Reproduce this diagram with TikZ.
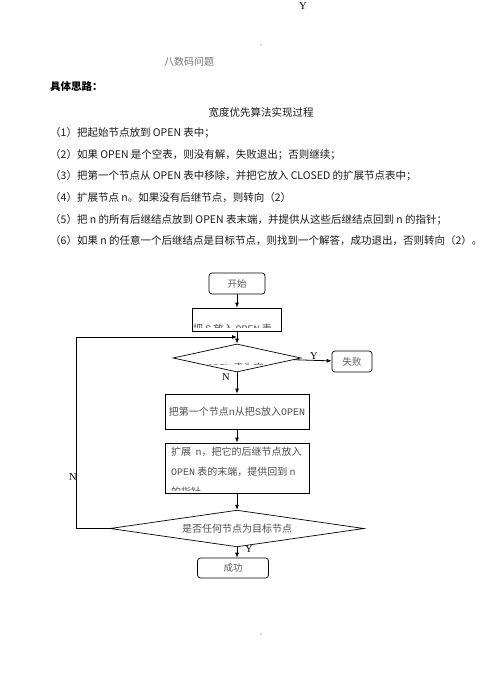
\documentclass[tikz,border=0pt]{standalone}
\usepackage{fontspec}
\setmainfont{Noto Sans CJK SC}
\setmonofont{Liberation Mono}
\newfontfamily\serifl{Liberation Serif}
\newcommand{\monol}{\ttfamily}
\usepackage{tikz}
\usetikzlibrary{arrows.meta,positioning,shapes.geometric}

\begin{document}
\begin{tikzpicture}[
  x=1pt, y=-1pt,
  every node/.style={inner sep=0pt},
  para/.style={anchor=west, font=\fontsize{10.5}{12}\selectfont, text=black!90},
  termbox/.style={draw, rounded corners=3pt, line width=0.7pt, text=black!65,
    font=\fontsize{9.5}{11}\selectfont},
  procbox/.style={draw, line width=0.8pt},
  decision/.style={draw, diamond, aspect=4, line width=0.7pt},
  boxtext/.style={text=black!70, font=\fontsize{10}{20}\selectfont},
  yn/.style={font=\serifl\fontsize{10.5}{12}\selectfont},
  arrow/.style={-{Latex[length=5pt,width=4pt]}, line width=0.8pt},
  dotmark/.style={circle, fill=black!70, inner sep=0.5pt}
]
\useasboundingbox (0,0) rectangle (496,688);

% page header and text
\node[yn] (topy) at (303,6) {Y};
\node[dotmark] (dottop) at (261,45) {};
\node[font=\fontsize{10}{12}\selectfont, text=black!55] (title) at (189,62) {八数码问题};
\node[anchor=west, font=\bfseries\fontsize{10.5}{12}\selectfont] (idea) at (50,87) {具体思路：};
\node[font=\fontsize{10.5}{12}\selectfont, text=black!90] (algo) at (261,113) {宽度优先算法实现过程};
\foreach \txt [count=\i] in {
  {（1）把起始节点放到 OPEN 表中；},
  {（2）如果 OPEN 是个空表，则没有解，失败退出；否则继续；},
  {（3）把第一个节点从 OPEN 表中移除，并把它放入 CLOSED 的扩展节点表中；},
  {（4）扩展节点 n。如果没有后继节点，则转向（2）},
  {（5）把 n 的所有后继结点放到 OPEN 表末端，并提供从这些后继结点回到 n 的指针；},
  {（6）如果 n 的任意一个后继结点是目标节点，则找到一个解答，成功退出，否则转向（2）。}}
  \node[para] (step\i) at (50,{133+21.6*(\i-1)}) {\txt};

% flowchart
\node[termbox, minimum width=56pt, minimum height=21pt] (start) at (237,283.5) {开始};
\node[procbox, minimum width=89pt, minimum height=23pt] (putS) at (237,319.5) {};
\coordinate (join) at (237,337);
\node[decision, minimum width=128pt, minimum height=28pt] (empty) at (237,358) {};
\node[termbox, minimum width=40pt, minimum height=21pt] (fail) at (352,361.5) {失败};
\node[procbox, minimum width=144pt, minimum height=35pt, boxtext] (take) at (237,411.5)
  {把第一个节点{\monol n}从把{\monol S}放入{\monol OPEN}};
\node[procbox, minimum width=144pt, minimum height=50pt] (expand) at (237,468) {};
\node[decision, minimum width=254pt, minimum height=29pt, boxtext] (goal) at (237,528.5)
  {是否任何节点为目标节点};
\node[termbox, minimum width=71pt, minimum height=20pt] (success) at (233,568) {成功};
\coordinate (loopleft) at (76,528.5);

% texts cut off by their boxes
\begin{scope}
  \clip (putS.north west) rectangle ([yshift=4pt]putS.south east);
  \node[boxtext] (putStext) at (232.5,328.5) {把 {\monol S} 放入 {\monol OPEN} 表};
\end{scope}
\begin{scope}
  \clip (172,344) rectangle (300,364);
  \node[boxtext] (emptytext) at (235.5,367.5) {{\monol OPEN} 表为空};
\end{scope}
\begin{scope}
  \clip (expand.north west) rectangle ([yshift=3pt]expand.south east);
  \node[boxtext, anchor=north west, align=left] (expandtext) at (171,447)
    {扩展\ \ {\monol n}，把它的后继节点放入\\{\monol OPEN} 表的末端，提供回到 {\monol n}\\的指针};
\end{scope}

\draw[arrow] (start) -- (putS);
\draw[arrow] (putS) -- (empty);
\draw[arrow] (empty) -- (fail);
\draw[arrow] (empty) -- (take);
\draw[arrow] (take) -- (expand);
\draw[arrow] (expand) -- (goal);
\draw[arrow] (goal.south) -- (goal.south |- success.north);
\draw[arrow] (goal.west) -- (loopleft) |- (join);

\node[yn] (yfail) at (314,356) {Y};
\node[yn] (nempty) at (226,377) {N};
\node[yn] (nloop) at (73,477) {N};
\node[yn] (ygoal) at (249,549) {Y};

\node[dotmark] (dotbottom) at (261,634) {};
\end{tikzpicture}
\end{document}
